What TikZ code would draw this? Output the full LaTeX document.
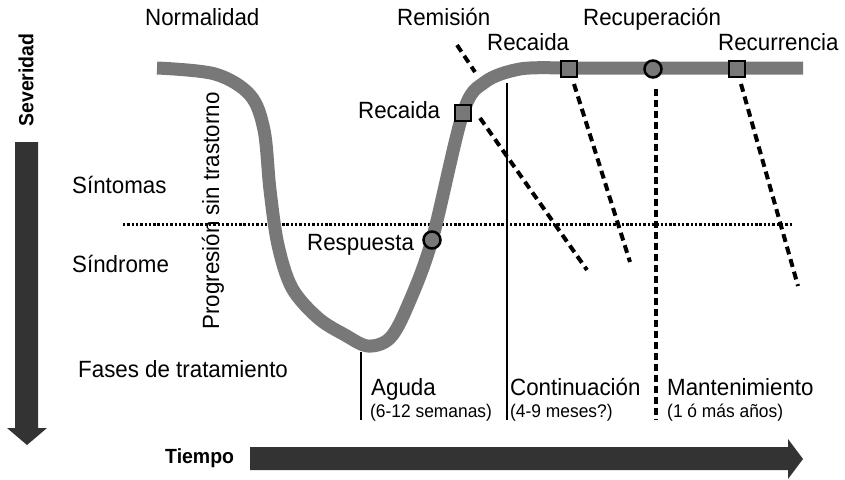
\documentclass[tikz,border=0pt]{standalone}
\usepackage{fontspec}
\setmainfont{Liberation Sans}[FakeStretch=0.95]
\begin{document}
\begin{tikzpicture}[x=1pt,y=-1pt,
  lbl/.style={font=\fontsize{23.5}{27}\selectfont, inner sep=0pt, anchor=base west},
  sublbl/.style={font=\fontsize{18.3}{21}\selectfont, inner sep=0pt, anchor=base west},
  boldlbl/.style={font=\fontsize{20.5}{23}\selectfont\bfseries, inner sep=0pt},
  curve/.style={line width=13pt, draw=curvegray},
  sqmark/.style={draw=black, line width=2.5pt, fill=curvegray, minimum size=16pt, inner sep=0pt, rectangle},
  cmark/.style={draw=black, line width=2.5pt, fill=curvegray, minimum size=17pt, inner sep=0pt, circle},
  dashln/.style={line width=4pt, dash pattern=on 8pt off 5pt},
  vdashln/.style={line width=4pt, dash pattern=on 7pt off 4pt},
  dotln/.style={line width=3pt, dash pattern=on 2.4pt off 1.9pt},
  solidln/.style={line width=2.6pt},
  bigarrow/.style={fill=arrowdark, draw=none}
]
\definecolor{curvegray}{HTML}{787878}
\definecolor{arrowdark}{HTML}{333333}
\useasboundingbox (0,0) rectangle (845,479);

% dotted threshold line
\coordinate (dotL) at (123,224);
\coordinate (dotR) at (793,224);
\draw[dotln] (dotL) -- (dotR);

% main curve
\draw[curve] plot[smooth,tension=0.55] coordinates {(157,68) (215,74) (250,95) (264,130) (270,190) (278,245) (292,288) (318,318) (345,335) (368,346) (390,338) (408,305) (432,240) (463,113) (485,82) (520,69) (560,68)} -- (803,68);

% markers
\node[sqmark] (relapse1) at (463,113) {};
\node[sqmark] (relapse2) at (569,69) {};
\node[sqmark] (recur) at (737,69) {};
\node[cmark] (recov) at (653,69) {};
\node[cmark] (resp) at (432,240) {};

% dashed lines
\coordinate (remA) at (457,45);
\coordinate (remB) at (475,72);
\draw[dashln] (remA) -- (remB);
\coordinate (r1A) at (480,118);
\coordinate (r1B) at (587,270);
\draw[dashln] (r1A) -- (r1B);
\coordinate (r2A) at (574,84);
\coordinate (r2B) at (630,262);
\draw[dashln] (r2A) -- (r2B);
\coordinate (rcA) at (741,84);
\coordinate (rcB) at (798,286);
\draw[dashln] (rcA) -- (rcB);
\coordinate (mA) at (656,89);
\coordinate (mB) at (656,420);
\draw[vdashln] (mA) -- (mB);

% solid phase lines
\coordinate (cA) at (507,83);
\coordinate (cB) at (507,420);
\draw[solidln] (cA) -- (cB);
\coordinate (aA) at (361,352);
\coordinate (aB) at (361,420);
\draw[solidln] (aA) -- (aB);

% labels
\node[lbl] (normalidad) at (145,25) {Normalidad};
\node[lbl] (remision) at (397,25) {Remisión};
\node[lbl] (recuperacion) at (583,25) {Recuperación};
\node[lbl] (recaida2) at (487,50) {Recaida};
\node[lbl] (recurrencia) at (718,50) {Recurrencia};
\node[lbl] (recaida1) at (358,118) {Recaida};
\node[lbl] (sintomas) at (72,193) {Síntomas};
\node[lbl] (sindrome) at (72,272) {Síndrome};
\node[lbl] (fases) at (78,377) {Fases de tratamiento};
\node[lbl] (respuesta) at (307,250) {Respuesta};
\node[font=\fontsize{23.5}{27}\selectfont, inner sep=0pt, rotate=90] (progresion) at (213,211) {Progresión sin trastorno};

\node[lbl] (aguda) at (371,395) {Aguda};
\node[sublbl] (agudat) at (370,417) {(6-12 semanas)};
\node[lbl] (continuacion) at (510,395) {Continuación};
\node[sublbl] (continuaciont) at (510,417) {(4-9 meses?)};
\node[lbl] (mantenimiento) at (667,395) {Mantenimiento};
\node[sublbl] (mantenimientot) at (667,417) {(1 ó más años)};

% axes
\node[boldlbl, rotate=90] (severidad) at (26,80) {Severidad};
\node[boldlbl, anchor=base west] (tiempo) at (165,463) {Tiempo};
\fill[bigarrow] (15,142) -- (38,142) -- (38,428) -- (47,428) -- (27,445) -- (7,428) -- (15,428) -- cycle;
\fill[bigarrow] (250,447) -- (788,447) -- (788,439) -- (803,459) -- (788,479) -- (788,470) -- (250,470) -- cycle;
\end{tikzpicture}
\end{document}
